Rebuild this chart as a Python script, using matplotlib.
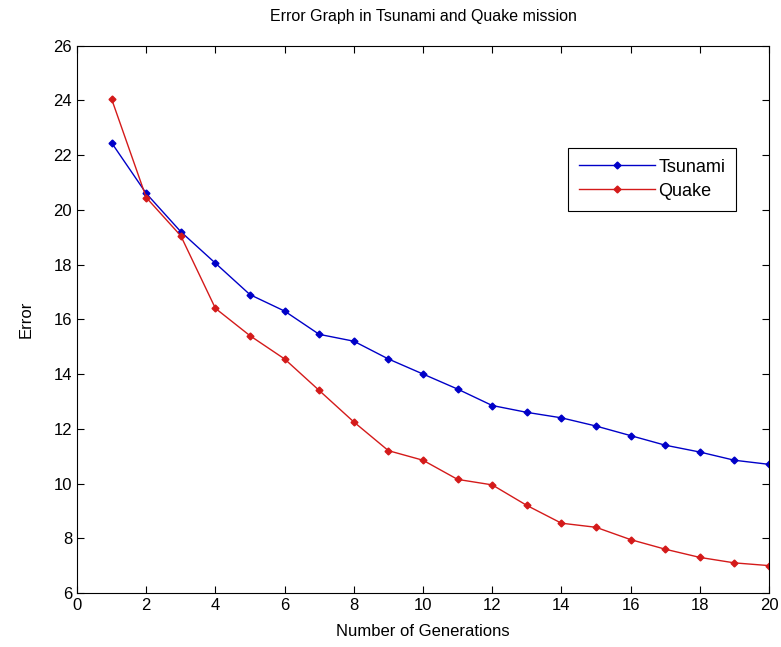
import numpy as np
import matplotlib
matplotlib.use('Agg')
import matplotlib.pyplot as plt

plt.rcParams['font.family'] = ['Liberation Sans', 'DejaVu Sans']

generations = np.arange(1, 21)
tsunami = [22.45, 20.6, 19.2, 18.05, 16.9, 16.3, 15.45, 15.2, 14.55, 14.0,
           13.45, 12.85, 12.6, 12.4, 12.1, 11.75, 11.4, 11.15, 10.85, 10.7]
quake = [24.05, 20.45, 19.05, 16.4, 15.4, 14.55, 13.4, 12.25, 11.2, 10.85,
         10.15, 9.95, 9.2, 8.55, 8.4, 7.95, 7.6, 7.3, 7.1, 7.0]

fig = plt.figure(figsize=(7.81, 6.47), dpi=100)
ax = fig.add_axes([0.0986, 0.0835, 0.886, 0.846])

ax.plot(generations, tsunami, color='#0000c8', marker='D', markersize=3.5, linewidth=1, label='Tsunami')
ax.plot(generations, quake, color='#d41a1a', marker='D', markersize=3.5, linewidth=1, label='Quake')

ax.set_xlim(0, 20)
ax.set_ylim(6, 26)
ax.set_xticks(np.arange(0, 21, 2))
ax.set_yticks(np.arange(6, 27, 2))
ax.tick_params(direction='in', top=True, right=True, labelsize=12, length=5)
for s in ax.spines.values():
    s.set_linewidth(0.8)

ax.set_title('Error Graph in Tsunami and Quake mission', fontsize=11.5, pad=18)
ax.set_xlabel('Number of Generations', fontsize=12, labelpad=8)
ax.set_ylabel('Error', fontsize=12, labelpad=14)

leg = ax.legend(loc='upper left', bbox_to_anchor=(0.7095, 0.8135), fontsize=13,
                fancybox=False, edgecolor='black', framealpha=1,
                handlelength=4.2, borderpad=0.6, labelspacing=0.4, handletextpad=0.2,
                borderaxespad=0)
leg.get_frame().set_linewidth(0.8)

fig.savefig('out.png', dpi=100)
